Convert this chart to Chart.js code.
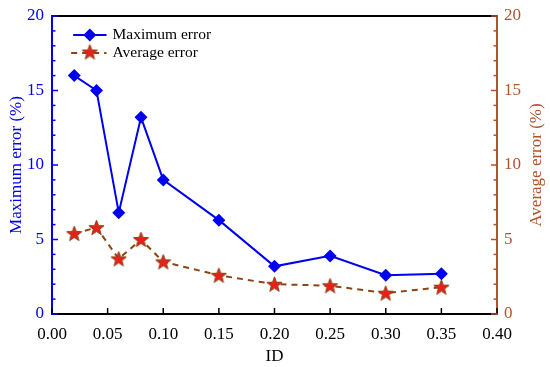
<!DOCTYPE html>
<html>
<head>
<meta charset="utf-8">
<script src="https://cdn.jsdelivr.net/npm/chart.js@4.4.1/dist/chart.umd.min.js"></script>
<style>
  html, body { margin: 0; padding: 0; background: #fff; }
  #wrap { width: 550px; height: 367px; }
</style>
</head>
<body>
<div id="wrap"><canvas id="errChart"></canvas></div>
<script>
const ids = [0.02, 0.04, 0.06, 0.08, 0.10, 0.15, 0.20, 0.25, 0.30, 0.35];
const maxError = [16.0, 15.0, 6.8, 13.2, 9.0, 6.3, 3.2, 3.9, 2.6, 2.7];
const avgError = [5.4, 5.8, 3.7, 5.0, 3.5, 2.6, 2.0, 1.9, 1.4, 1.8];
const xTicks = [0, 0.05, 0.10, 0.15, 0.20, 0.25, 0.30, 0.35, 0.40];
const yTicks = [0, 5, 10, 15, 20];

const BLUE = '#0000ee';
const BROWN = '#b0542c';
const LINE_BROWN = '#8b4513';
const STAR_RED = '#e8201c';
const FONT = '"Liberation Serif", "Times New Roman", serif';

// filled star marker
function makeStar(size) {
    const c = document.createElement('canvas');
    c.width = size; c.height = size;
    const g = c.getContext('2d');
    const cx = size / 2, cy = size / 2 + 0.6;
    const ro = size / 2 - 0.5, ri = ro * 0.42;
    g.beginPath();
    for (let i = 0; i < 10; i++) {
        const r = i % 2 === 0 ? ro : ri;
        const a = -Math.PI / 2 + i * Math.PI / 5;
        const px = cx + r * Math.cos(a), py = cy + r * Math.sin(a);
        if (i === 0) g.moveTo(px, py); else g.lineTo(px, py);
    }
    g.closePath();
    g.fillStyle = STAR_RED;
    g.fill();
    g.strokeStyle = LINE_BROWN;
    g.lineWidth = 1;
    g.stroke();
    return c;
}
const starImg = makeStar(17);

// ticks drawn inward + top frame line + right title + legend inside plot
const framePlugin = {
    id: 'frame',
    afterDraw(chart) {
        const ctx = chart.ctx;
        const a = chart.chartArea;
        const sx = chart.scales.x, sy = chart.scales.y, sy2 = chart.scales.y2;
        ctx.save();
        ctx.lineWidth = 2;
        ctx.strokeStyle = '#000';
        ctx.beginPath();
        ctx.moveTo(a.left, a.top);
        ctx.lineTo(a.right, a.top);
        ctx.stroke();

        ctx.lineWidth = 1.5;
        // x ticks
        ctx.strokeStyle = '#000';
        xTicks.forEach(v => {
            const px = sx.getPixelForValue(v);
            ctx.beginPath();
            ctx.moveTo(px, a.bottom);
            ctx.lineTo(px, a.bottom - 6);
            ctx.stroke();
        });
        // y ticks, major every 5, minor every 1
        for (let v = 0; v <= 20; v++) {
            const len = v % 5 === 0 ? 6 : 3.5;
            const py = sy.getPixelForValue(v);
            ctx.strokeStyle = BLUE;
            ctx.beginPath();
            ctx.moveTo(a.left, py);
            ctx.lineTo(a.left + len, py);
            ctx.stroke();
            const py2 = sy2.getPixelForValue(v);
            ctx.strokeStyle = BROWN;
            ctx.beginPath();
            ctx.moveTo(a.right, py2);
            ctx.lineTo(a.right - len, py2);
            ctx.stroke();
        }

        // right axis title, reading bottom to top
        ctx.save();
        ctx.translate(sy2.right - 13, (a.top + a.bottom) / 2);
        ctx.rotate(-Math.PI / 2);
        ctx.font = '17px ' + FONT;
        ctx.fillStyle = BROWN;
        ctx.textAlign = 'center';
        ctx.textBaseline = 'middle';
        ctx.fillText('Average error (%)', 0, 0);
        ctx.restore();

        // legend
        ctx.font = '15.5px ' + FONT;
        ctx.textBaseline = 'middle';
        ctx.fillStyle = '#000';
        const lx0 = sx.getPixelForValue(0.019), lx1 = sx.getPixelForValue(0.049);
        const mid = (lx0 + lx1) / 2;
        const rows = [a.top + 19, a.top + 37];
        // maximum error
        ctx.setLineDash([]);
        ctx.strokeStyle = BLUE;
        ctx.lineWidth = 2;
        ctx.beginPath();
        ctx.moveTo(lx0, rows[0]);
        ctx.lineTo(lx1, rows[0]);
        ctx.stroke();
        ctx.fillStyle = BLUE;
        ctx.beginPath();
        ctx.moveTo(mid, rows[0] - 6.5);
        ctx.lineTo(mid + 6.5, rows[0]);
        ctx.lineTo(mid, rows[0] + 6.5);
        ctx.lineTo(mid - 6.5, rows[0]);
        ctx.closePath();
        ctx.fill();
        // average error
        ctx.strokeStyle = LINE_BROWN;
        ctx.setLineDash([6, 5]);
        ctx.beginPath();
        ctx.moveTo(lx0 - 2, rows[1]);
        ctx.lineTo(lx1, rows[1]);
        ctx.stroke();
        ctx.setLineDash([]);
        ctx.drawImage(starImg, mid - starImg.width / 2, rows[1] - starImg.height / 2 - 1);
        ctx.fillStyle = '#000';
        ctx.fillText('Maximum error', lx1 + 6, rows[0]);
        ctx.fillText('Average error', lx1 + 6, rows[1]);
        ctx.restore();
    }
};

const tickFont = { family: FONT, size: 17 };
const titleFont = { family: FONT, size: 17 };

function fixY(width) {
    return s => { s.width = width; s.paddingTop = 0; s.paddingBottom = 0; };
}

new Chart(document.getElementById('errChart'), {
    type: 'line',
    data: {
        datasets: [
            {
                label: 'Maximum error',
                data: ids.map((x, i) => ({ x: x, y: maxError[i] })),
                borderColor: BLUE,
                backgroundColor: BLUE,
                borderWidth: 2,
                pointStyle: 'rectRot',
                pointRadius: 6.5,
                pointHoverRadius: 6.5,
                pointBorderWidth: 0,
                yAxisID: 'y',
                tension: 0
            },
            {
                label: 'Average error',
                data: ids.map((x, i) => ({ x: x, y: avgError[i] })),
                borderColor: LINE_BROWN,
                backgroundColor: STAR_RED,
                borderWidth: 2,
                borderDash: [6, 5],
                pointStyle: starImg,
                pointRadius: 8,
                yAxisID: 'y2',
                tension: 0
            }
        ]
    },
    plugins: [framePlugin],
    options: {
        responsive: true,
        maintainAspectRatio: false,
        animation: false,
        layout: { padding: { top: 16, left: 0, right: 0, bottom: 0 } },
        plugins: {
            legend: { display: false },
            tooltip: { enabled: false }
        },
        scales: {
            x: {
                type: 'linear',
                min: 0,
                max: 0.4,
                afterFit: s => { s.height = 53; s.paddingLeft = 0; s.paddingRight = 0; },
                afterBuildTicks: s => { s.ticks = xTicks.map(v => ({ value: v })); },
                ticks: {
                    color: '#000',
                    font: tickFont,
                    padding: 10,
                    maxRotation: 0,
                    callback: v => v.toFixed(2)
                },
                grid: { display: false, drawTicks: false },
                border: { color: '#000', width: 2 },
                title: { display: true, text: 'ID', color: '#000', font: titleFont, padding: { top: 0, bottom: 0 } }
            },
            y: {
                type: 'linear',
                position: 'left',
                min: 0,
                max: 20,
                afterFit: fixY(52),
                afterBuildTicks: s => { s.ticks = yTicks.map(v => ({ value: v })); },
                ticks: { color: BLUE, font: tickFont, padding: 8 },
                grid: { display: false, drawTicks: false },
                border: { color: BLUE, width: 2 },
                title: { display: true, text: 'Maximum error (%)', color: BLUE, font: titleFont, padding: { top: 6, bottom: 0 } }
            },
            y2: {
                type: 'linear',
                position: 'right',
                min: 0,
                max: 20,
                afterFit: fixY(53),
                afterBuildTicks: s => { s.ticks = yTicks.map(v => ({ value: v })); },
                ticks: { color: BROWN, font: tickFont, padding: 7 },
                grid: { display: false, drawTicks: false },
                border: { color: BROWN, width: 2 },
                title: { display: false }
            }
        }
    }
});
</script>
</body>
</html>
